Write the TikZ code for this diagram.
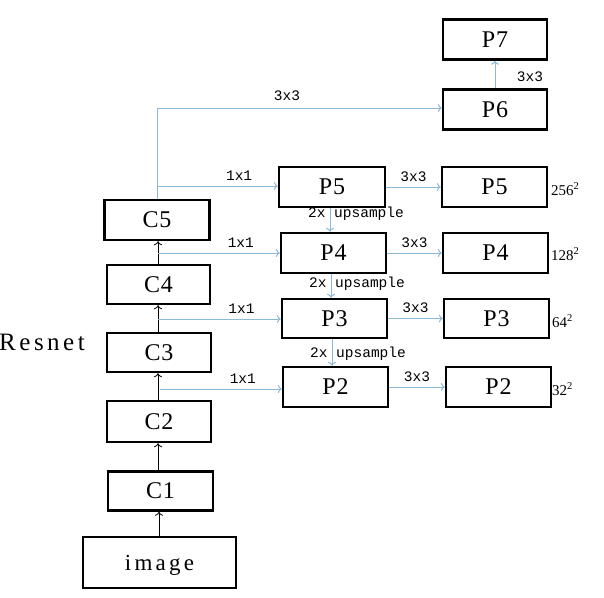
\documentclass[tikz,border=0pt]{standalone}
\usepackage{fontspec}
\setmainfont{Liberation Serif}
\newfontfamily\lblfont{Liberation Mono}
\usetikzlibrary{arrows.meta}
\definecolor{linkblue}{RGB}{140,185,215}
\tikzset{
  box/.style={draw=black,line width=2.4pt,minimum width=104pt,minimum height=40pt,inner sep=0pt,font=\addfontfeatures{LetterSpace=4}\fontsize{24}{26}\selectfont},
  blk/.style={draw=black,line width=0.8pt,-{To[length=4pt,width=8pt]}},
  blu/.style={draw=linkblue,line width=1pt,-{To[length=4pt,width=8pt]}},
  bluplain/.style={draw=linkblue,line width=1pt},
  lbl/.style={font=\lblfont\fontsize{14.5}{16}\selectfont,inner sep=0pt},
  szl/.style={font=\fontsize{15}{17}\selectfont,inner sep=0pt,anchor=west}
}
\begin{document}
\begin{tikzpicture}[x=1pt,y=-1pt]
\useasboundingbox (0,0) rectangle (604,597);
% boxes
\node[box] (P7) at (495,39.5) {P7};
\node[box] (P6) at (495,109.5) {P6};
\node[box,minimum width=106pt] (P5m) at (332,187) {P5};
\node[box,minimum width=105pt] (P4m) at (333.5,253) {P4};
\node[box,minimum width=105pt,minimum height=39pt] (P3m) at (334.5,318.5) {P3};
\node[box,minimum width=105pt] (P2m) at (335.5,387) {P2};
\node[box,minimum width=105pt] (P5r) at (494.5,187) {P5};
\node[box,minimum width=105pt] (P4r) at (495.5,253) {P4};
\node[box,minimum width=105pt,minimum height=39pt] (P3r) at (496.5,318.5) {P3};
\node[box,minimum width=105pt] (P2r) at (498.5,387) {P2};
\node[box,minimum width=105pt] (C5) at (157,220) {C5};
\node[box,minimum width=103pt,minimum height=39pt] (C4) at (158.5,284.5) {C4};
\node[box,minimum height=39pt] (C3) at (159,352.5) {C3};
\node[box,minimum height=41pt] (C2) at (159,421.5) {C2};
\node[box,minimum width=105pt,minimum height=39pt] (C1) at (160.5,491) {C1};
\node[box,minimum width=153pt,minimum height=51pt,font=\addfontfeatures{LetterSpace=14}\fontsize{23}{25}\selectfont,text depth=2pt,text height=18pt] (img) at (159.5,562.5) {image};
\node[inner sep=0pt,font=\addfontfeatures{LetterSpace=14}\fontsize{25}{27}\selectfont] (resnet) at (42,342) {Resnet};
% backbone arrows
\draw[blk] (img.north -| 159,0) -- (C1.south -| 159,0);
\draw[blk] (C1.north -| 158,0) -- (C2.south -| 158,0);
\draw[blk] (C2.north -| 158,0) -- (C3.south -| 158,0);
\draw[blk] (C3.north -| 158,0) -- (C4.south -| 158,0);
\draw[blk] (C4.north -| 158,0) -- (C5.south -| 158,0);
% lateral connections
\coordinate (b5) at (C5.north |- 0,186);
\coordinate (b4) at (158,253);
\coordinate (b3) at (158,319);
\coordinate (b2) at (160,389);
\coordinate (top) at (C5.north |- 0,108);
\draw[bluplain] (C5.north) -- (top);
\draw[blu] (top) -- (top -| P6.west);
\node[lbl] at (287,96) {3x3};
\draw[blu] (b5) -- (b5 -| P5m.west) node[lbl,pos=0.68,above=5pt] {1x1};
\draw[blu] (b4) -- (b4 -| P4m.west) node[lbl,pos=0.68,above=5pt] {1x1};
\draw[blu] (b3) -- (b3 -| P3m.west) node[lbl,pos=0.68,above=5pt] {1x1};
\draw[blu] (b2) -- (b2 -| P2m.west) node[lbl,pos=0.68,above=5pt] {1x1};
% top-down
\draw[blu] (P5m.south -| 330,0) -- (P4m.north -| 330,0);
\node[lbl] at (356,214) {2x upsample};
\draw[blu] (P4m.south -| 331,0) -- (P3m.north -| 331,0);
\node[lbl] at (357,284) {2x upsample};
\draw[blu] (P3m.south -| 332,0) -- (P2m.north -| 332,0);
\node[lbl] at (358,354) {2x upsample};
% 3x3 outputs
\draw[blu] (P5m.east) -- (P5r.west) node[lbl,midway,above=5pt] {3x3};
\draw[blu] (P4m.east) -- (P4r.west) node[lbl,midway,above=5pt] {3x3};
\draw[blu] (P3m.east) -- (P3r.west) node[lbl,midway,above=5pt] {3x3};
\draw[blu] (P2m.east) -- (P2r.west) node[lbl,midway,above=5pt] {3x3};
\draw[blu] (P6.north) -- (P7.south);
\node[lbl] at (530,77) {3x3};
% sizes
\node[szl] at (551,189) {256\textsuperscript{2}};
\node[szl] at (551,254) {128\textsuperscript{2}};
\node[szl] at (552,321) {64\textsuperscript{2}};
\node[szl] at (552,389) {32\textsuperscript{2}};
\end{tikzpicture}
\end{document}
